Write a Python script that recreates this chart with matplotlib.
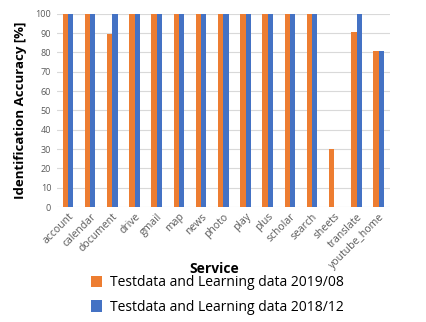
import matplotlib
matplotlib.use("Agg")
import matplotlib.pyplot as plt
import numpy as np

plt.rcParams['font.family'] = ['Open Sans', 'DejaVu Sans']

services = ['account', 'calendar', 'document', 'drive', 'gmail', 'map', 'news',
            'photo', 'play', 'plus', 'scholar', 'search', 'sheets', 'translate',
            'youtube_home']
acc_201908 = [100, 100, 89.5, 100, 100, 100, 100, 100, 100, 100, 100, 100, 30, 90.5, 81]
acc_201812 = [100, 100, 100, 100, 100, 100, 100, 100, 100, 100, 100, 100, 0, 100, 81]
yticks = [0, 10, 20, 30, 40, 50, 60, 70, 80, 90, 100]

fig = plt.figure(figsize=(4.27, 3.22), dpi=100)
ax = fig.add_axes([0.133, 0.357, 0.78, 0.6])

x = np.arange(len(services))
w = 0.24
ax.bar(x - w / 2, acc_201908, w, color='#ED7D31', label='Testdata and Learning data 2019/08', zorder=3)
ax.bar(x + w / 2, acc_201812, w, color='#4472C4', label='Testdata and Learning data 2018/12', zorder=3)

ax.set_xlim(-0.5, len(services) - 0.5)
ax.set_ylim(0, 100)
ax.set_yticks(yticks)
ax.yaxis.grid(True, color='#D9D9D9', linewidth=0.8, zorder=0)
for s in ax.spines.values():
    s.set_visible(False)
ax.tick_params(axis='y', length=0, labelsize=6.5, colors='#595959', pad=4)
ax.tick_params(axis='x', length=0, labelsize=7.5, colors='#595959', pad=3)
ax.set_xticks(x)
ax.set_xticklabels(services, rotation=45, ha='right', rotation_mode='anchor')

ax.set_ylabel('Identification Accuracy [%]', fontsize=9.5, fontweight='bold', labelpad=6)
ax.set_xlabel('Service', fontsize=10, fontweight='bold')
ax.xaxis.set_label_coords(0.474, -0.285)

fig.legend(loc='center', bbox_to_anchor=(0.51, 0.084), frameon=False, ncol=1,
           fontsize=10, handlelength=0.75, handleheight=0.9, labelspacing=0.7, handletextpad=0.6)

fig.savefig('out.png', dpi=100)
